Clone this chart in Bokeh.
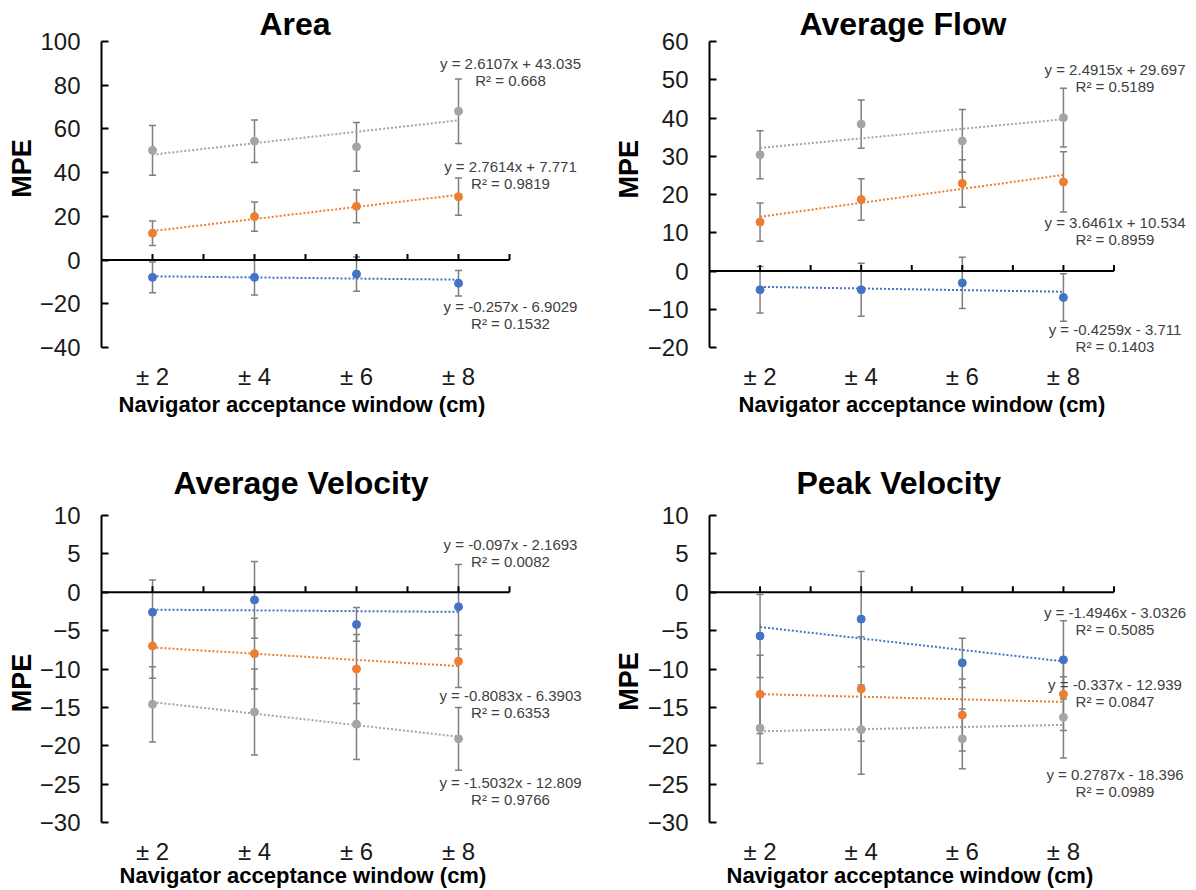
import math

from bokeh.embed import file_html
from bokeh.layouts import column, row
from bokeh.models import ColumnDataSource, FixedTicker, Label, Range1d, TeeHead, Title, Whisker
from bokeh.plotting import figure
from bokeh.resources import INLINE

FONT = "Liberation Sans"
TEXT_DARK = "#1a1a1a"
EQ_COLOR = "#404040"
ERR_COLOR = "#7f7f7f"
PANEL_W, PANEL_H = 598, 445

# Navigator acceptance window (cm) and the captions under each group
window_cm = [2, 4, 6, 8]
window_labels = ["± 2", "± 4", "± 6", "± 8"]
x_label = "Navigator acceptance window (cm)"
y_label = "MPE"

series_order = ["blue", "orange", "gray"]
series_colors = {"blue": "#4472C4", "orange": "#ED7D31", "gray": "#A5A5A5"}

# ---------------- Area ----------------
area_blue = [-7.9, -7.9, -6.4, -10.6]
area_blue_sd = [7.0, 8.1, 7.8, 5.8]
area_orange = [12.3, 19.9, 24.6, 29.0]
area_orange_sd = [5.6, 6.7, 7.5, 8.5]
area_gray = [50.2, 54.4, 51.8, 68.1]
area_gray_sd = [11.4, 9.7, 11.2, 14.8]
area_fit_x = [2, 4, 6, 8]
# slope, intercept, R^2
area_fit_blue = (-0.257, -6.9029, 0.1532)
area_fit_orange = (2.7614, 7.771, 0.9819)
area_fit_gray = (2.6107, 43.035, 0.668)

# ------------- Average Flow -------------
flow_blue = [-4.9, -4.9, -3.1, -6.9]
flow_blue_sd = [6.1, 6.9, 6.7, 6.2]
flow_orange = [12.8, 18.7, 22.9, 23.3]
flow_orange_sd = [5.0, 5.4, 6.2, 7.9]
flow_gray = [30.4, 38.4, 34.0, 40.1]
flow_gray_sd = [6.3, 6.3, 8.2, 7.7]
flow_fit_x = [1, 2, 3, 4]
flow_fit_blue = (-0.4259, -3.711, 0.1403)
flow_fit_orange = (3.6461, 10.534, 0.8959)
flow_fit_gray = (2.4915, 29.697, 0.5189)

# ----------- Average Velocity -----------
avgvel_blue = [-2.6, -1.0, -4.2, -1.9]
avgvel_blue_sd = [4.2, 5.0, 2.2, 5.5]
avgvel_orange = [-7.0, -8.0, -10.0, -9.0]
avgvel_orange_sd = [4.2, 4.6, 4.5, 3.4]
avgvel_gray = [-14.6, -15.6, -17.2, -19.1]
avgvel_gray_sd = [4.9, 5.6, 4.6, 4.1]
avgvel_fit_x = [1, 2, 3, 4]
avgvel_fit_blue = (-0.097, -2.1693, 0.0082)
avgvel_fit_orange = (-0.8083, -6.3903, 0.6353)
avgvel_fit_gray = (-1.5032, -12.809, 0.9766)

# ------------- Peak Velocity -------------
peakvel_blue = [-5.7, -3.5, -9.2, -8.8]
peakvel_blue_sd = [5.4, 6.2, 3.2, 5.1]
peakvel_orange = [-13.3, -12.6, -16.0, -13.3]
peakvel_orange_sd = [5.1, 6.8, 4.7, 4.7]
peakvel_gray = [-17.7, -17.9, -19.1, -16.3]
peakvel_gray_sd = [4.6, 5.8, 3.9, 5.3]
peakvel_fit_x = [1, 2, 3, 4]
peakvel_fit_blue = (-1.4946, -3.0326, 0.5085)
peakvel_fit_orange = (-0.337, -12.939, 0.0847)
peakvel_fit_gray = (0.2787, -18.396, 0.0989)


# pixel layout of each panel: axis box (left/right/top/bottom), the
# y-axis title strip width and the centre of its rotated caption
panels = [
    dict(title="Area", y_lo=-40, y_hi=100, y_step=20, fit_x=area_fit_x,
         means=dict(blue=area_blue, orange=area_orange, gray=area_gray),
         sds=dict(blue=area_blue_sd, orange=area_orange_sd, gray=area_gray_sd),
         fits=dict(blue=area_fit_blue, orange=area_fit_orange, gray=area_fit_gray),
         eq_y=dict(gray=90.1, orange=43.0, blue=-21.2),
         left=101, axis_right=509, top=40, axis_bottom=347,
         title_offset=158, title_standoff=0, xlabel_offset=17, xlabel_standoff=-3,
         strip_w=36, ylabel_pos=(21, 179)),
    dict(title="Average Flow", y_lo=-20, y_hi=60, y_step=10, fit_x=flow_fit_x,
         means=dict(blue=flow_blue, orange=flow_orange, gray=flow_gray),
         sds=dict(blue=flow_blue_sd, orange=flow_orange_sd, gray=flow_gray_sd),
         fits=dict(blue=flow_fit_blue, orange=flow_fit_orange, gray=flow_fit_gray),
         eq_y=dict(gray=52.6, orange=12.7, blue=-15.3),
         left=108, axis_right=515, top=41, axis_bottom=348,
         title_offset=90, title_standoff=0, xlabel_offset=29, xlabel_standoff=-3,
         strip_w=46, ylabel_pos=(30, 180)),
    dict(title="Average Velocity", y_lo=-30, y_hi=10, y_step=5, fit_x=avgvel_fit_x,
         means=dict(blue=avgvel_blue, orange=avgvel_orange, gray=avgvel_gray),
         sds=dict(blue=avgvel_blue_sd, orange=avgvel_orange_sd, gray=avgvel_gray_sd),
         fits=dict(blue=avgvel_fit_blue, orange=avgvel_fit_orange, gray=avgvel_fit_gray),
         eq_y=dict(blue=6.2, orange=-13.45, gray=-24.8),
         left=101, axis_right=509, top=70, axis_bottom=377,
         title_offset=72, title_standoff=29, xlabel_offset=18, xlabel_standoff=-11,
         strip_w=36, ylabel_pos=(21, 235)),
    dict(title="Peak Velocity", y_lo=-30, y_hi=10, y_step=5, fit_x=peakvel_fit_x,
         means=dict(blue=peakvel_blue, orange=peakvel_orange, gray=peakvel_gray),
         sds=dict(blue=peakvel_blue_sd, orange=peakvel_orange_sd, gray=peakvel_gray_sd),
         fits=dict(blue=peakvel_fit_blue, orange=peakvel_fit_orange, gray=peakvel_fit_gray),
         eq_y=dict(blue=-2.7, orange=-12.0, gray=-23.8),
         left=108, axis_right=515, top=70, axis_bottom=377,
         title_offset=87, title_standoff=29, xlabel_offset=17, xlabel_standoff=-11,
         strip_w=46, ylabel_pos=(30, 233)),
]

# the drawn category axis runs from x=1 to x=9; the view continues to the
# right so the trendline equations have room beside the last group, and a
# little below the value axis so the lowest equation is not cut off
X_LO, X_HI = 1, 9
RIGHT_BORDER = 2
PAD_BELOW = 10


def equation_text(slope, intercept):
    sign = "+" if intercept >= 0 else "-"
    return f"y = {slope:g}x {sign} {abs(intercept):g}"


def make_ylabel_strip(spec):
    w = spec["strip_w"]
    s = figure(width=w, height=PANEL_H, x_range=Range1d(0, w), y_range=Range1d(PANEL_H, 0),
               x_axis_type=None, y_axis_type=None, output_backend="svg",
               toolbar_location=None, min_border=0, outline_line_color=None,
               background_fill_color="white", border_fill_color="white")
    s.grid.visible = False
    lx, ly = spec["ylabel_pos"]
    s.add_layout(Label(x=lx, y=ly, angle=math.pi / 2, text=y_label,
                       text_align="center", text_baseline="middle",
                       text_font=FONT, text_font_size="27px", text_font_style="bold",
                       text_color="black"))
    return s


def make_panel(spec):
    main_w = PANEL_W - spec["strip_w"]
    border_left = spec["left"] - spec["strip_w"]
    px_per_x = (spec["axis_right"] - spec["left"]) / (X_HI - X_LO)
    view_hi = X_LO + (PANEL_W - RIGHT_BORDER - spec["left"]) / px_per_x
    px_per_y = (spec["axis_bottom"] - spec["top"]) / (spec["y_hi"] - spec["y_lo"])
    view_lo = spec["y_lo"] - PAD_BELOW / px_per_y
    border_bottom = PANEL_H - spec["axis_bottom"] - PAD_BELOW

    p = figure(width=main_w, height=PANEL_H,
               x_range=Range1d(X_LO, view_hi), y_range=Range1d(view_lo, spec["y_hi"]),
               output_backend="svg", toolbar_location=None,
               min_border_top=spec["top"], min_border_right=RIGHT_BORDER,
               min_border_bottom=border_bottom, min_border_left=border_left,
               outline_line_color=None, background_fill_color="white",
               border_fill_color="white")
    p.grid.visible = False

    # chart title
    p.title.text = spec["title"]
    p.title.align = "left"
    p.title.offset = spec["title_offset"]
    p.title.standoff = spec["title_standoff"]
    p.title.text_font = FONT
    p.title.text_font_size = "32px"
    p.title.text_font_style = "bold"
    p.title.text_color = "black"

    # vertical value axis with inward ticks
    yax = p.yaxis[0]
    yax.bounds = (spec["y_lo"], spec["y_hi"])
    yax.ticker = FixedTicker(ticks=list(range(spec["y_lo"], spec["y_hi"] + 1, spec["y_step"])))
    yax.major_tick_in = 7
    yax.major_tick_out = 0
    yax.minor_tick_line_color = None
    yax.axis_line_width = 2
    yax.major_tick_line_width = 2
    yax.axis_line_color = "black"
    yax.major_tick_line_color = "black"
    yax.major_label_standoff = 21
    yax.major_label_text_font = FONT
    yax.major_label_text_font_size = "24px"
    yax.major_label_text_color = TEXT_DARK
    yax.axis_label_standoff = 0

    # category captions along the bottom edge
    xax = p.xaxis[0]
    xax.ticker = FixedTicker(ticks=window_cm)
    xax.major_label_overrides = {x: lab for x, lab in zip(window_cm, window_labels)}
    xax.axis_line_color = None
    xax.major_tick_line_color = None
    xax.minor_tick_line_color = None
    xax.major_tick_in = 0
    xax.major_tick_out = 0
    xax.major_label_standoff = 15 - PAD_BELOW
    xax.major_label_text_font = FONT
    xax.major_label_text_font_size = "24px"
    xax.major_label_text_color = TEXT_DARK
    xax.axis_label_standoff = 0

    p.add_layout(Title(text=x_label, align="left", vertical_align="middle",
                       offset=spec["xlabel_offset"], standoff=spec["xlabel_standoff"],
                       text_font=FONT, text_font_size="22px", text_font_style="bold",
                       text_color="black"), "below")

    # horizontal axis crossing at zero, with upward tick marks
    p.segment(x0=[X_LO], y0=[0], x1=[X_HI], y1=[0], line_color="black", line_width=2)
    p.ray(x=list(range(X_LO + 1, X_HI + 1)), y=0, length=6, length_units="screen",
          angle=math.pi / 2, line_color="black", line_width=2)

    for name in series_order:
        color = series_colors[name]
        means = spec["means"][name]
        sds = spec["sds"][name]
        slope, intercept, r2 = spec["fits"][name]

        src = ColumnDataSource(dict(
            x=window_cm, y=means,
            upper=[m + s for m, s in zip(means, sds)],
            lower=[m - s for m, s in zip(means, sds)],
        ))
        p.add_layout(Whisker(source=src, base="x", upper="upper", lower="lower",
                             line_color=ERR_COLOR, line_width=1.5, level="underlay",
                             upper_head=TeeHead(size=7, line_color=ERR_COLOR, line_width=1.5),
                             lower_head=TeeHead(size=7, line_color=ERR_COLOR, line_width=1.5)))

        # linear trendline evaluated from its fitted equation
        trend_y = [slope * fx + intercept for fx in spec["fit_x"]]
        p.line(window_cm, trend_y, line_color=color, line_width=2, line_dash="2 2")

        p.scatter(window_cm, means, size=8, fill_color=color, line_color=color)

        ey = spec["eq_y"][name]
        p.add_layout(Label(x=X_HI, y=ey, x_offset=1, text=equation_text(slope, intercept),
                           text_align="center", text_baseline="middle",
                           text_font=FONT, text_font_size="15px", text_color=EQ_COLOR))
        p.add_layout(Label(x=X_HI, y=ey, x_offset=1, y_offset=-17, text=f"R² = {r2:g}",
                           text_align="center", text_baseline="middle",
                           text_font=FONT, text_font_size="15px", text_color=EQ_COLOR))
    return p


cells = []
for spec in panels:
    cells.append(make_ylabel_strip(spec))
    cells.append(make_panel(spec))

page = column(row(*cells[0:4]), row(*cells[4:8]))

open("out.html", "w").write(file_html(page, INLINE))
